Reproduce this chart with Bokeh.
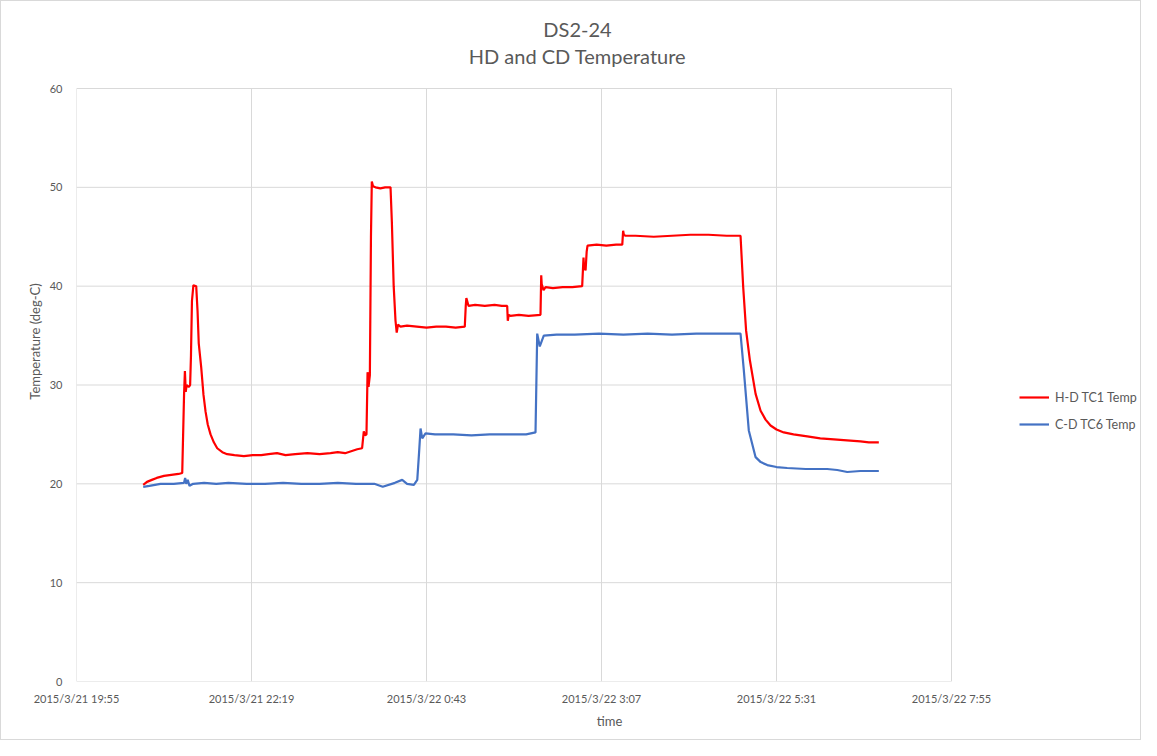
from bokeh.plotting import figure
from bokeh.models import (Range1d, FixedTicker, Legend, LegendItem, Label)
from bokeh.embed import file_html
from bokeh.resources import INLINE

# elapsed minutes since 2015/3/21 19:55
hd_minutes = [54.9, 58, 62, 66, 72, 78, 84, 87,
              88.5, 89.2, 89.9, 90.6, 92.5, 93.5, 94.2, 95.0,
              96.2, 98.5, 99.6, 100.6, 102.6, 104.5, 106.2, 108,
              110.3, 113, 115.8, 120, 124, 130, 137.7, 145,
              152, 158, 165, 172, 180, 190, 200, 209,
              215, 221, 226, 231, 235, 236.4, 237.5, 238.6,
              239.5, 240.3, 241.4, 242.3, 243.0, 244, 246, 250,
              254, 258.4, 259.5, 261, 262.5, 263.5, 264.5, 266.6,
              272, 280, 288, 296, 304, 312, 319.5, 320.3,
              320.8, 322.6, 328, 336, 344, 350, 354.4, 354.9,
              355.6, 357, 364, 372, 381.8, 382.4, 382.8, 384.3,
              386, 392, 400, 408, 416.1, 417.2, 417.6, 418.9,
              419.8, 420.5, 428, 436, 444, 449.1, 449.8, 450.4,
              451.8, 460, 475, 490, 505, 520, 535, 546.4,
              548.6, 551, 554.1, 558.8, 562.9, 567, 571.1, 576,
              582.0, 590, 601.3, 612, 623.2, 634, 645.1, 652,
              660.2]
hd_temp = [19.9, 20.2, 20.4, 20.6, 20.8, 20.9, 21.0, 21.1,
           29.0, 31.4, 29.3, 30.0, 29.8, 30.0, 33.0, 38.5,
           40.1, 40.0, 37.5, 34.2, 31.8, 29.0, 27.3, 26.0,
           25.0, 24.2, 23.6, 23.2, 23.0, 22.9, 22.8, 22.9,
           22.9, 23.0, 23.1, 22.9, 23.0, 23.1, 23.0, 23.1,
           23.2, 23.1, 23.3, 23.5, 23.6, 25.3, 24.9, 25.0,
           31.3, 29.8, 31.0, 45.0, 50.6, 50.1, 50.0, 49.9,
           50.0, 50.0, 46.5, 40.0, 36.5, 35.3, 36.1, 35.9,
           36.0, 35.9, 35.8, 35.9, 35.9, 35.8, 35.9, 38.0,
           38.8, 38.0, 38.1, 38.0, 38.1, 38.0, 38.0, 36.5,
           37.1, 37.0, 37.1, 37.0, 37.1, 41.1, 40.2, 39.6,
           39.9, 39.8, 39.9, 39.9, 40.0, 42.9, 42.0, 41.6,
           43.5, 44.1, 44.2, 44.1, 44.2, 44.2, 45.6, 45.2,
           45.1, 45.1, 45.0, 45.1, 45.2, 45.2, 45.1, 45.1,
           39.9, 35.5, 32.5, 29.1, 27.4, 26.5, 25.9, 25.5,
           25.2, 25.0, 24.8, 24.6, 24.5, 24.4, 24.3, 24.2,
           24.2]

cd_minutes = [54.9, 60, 69.1, 80, 88.5, 89.4, 90.3, 91.5,
              93, 96, 105, 115, 125, 140, 155, 170,
              185, 200, 215, 230, 245, 252, 262, 268,
              272, 277.6, 280.4, 281.8, 283.1, 284.5, 287.2, 295,
              310, 325, 340, 355, 370, 377.7, 379.1, 381.2,
              384.5, 395, 410, 430, 450, 470, 490, 510,
              530, 546.4, 549.1, 553.2, 558.8, 563, 568.4, 576,
              584.8, 600, 617.7, 626, 634.2, 645, 660.2]
cd_temp = [19.7, 19.8, 20.0, 20.0, 20.1, 20.6, 20.0, 20.4,
           19.8, 20.0, 20.1, 20.0, 20.1, 20.0, 20.0, 20.1,
           20.0, 20.0, 20.1, 20.0, 20.0, 19.7, 20.1, 20.4,
           20.0, 19.9, 20.4, 23.0, 25.6, 24.6, 25.1, 25.0,
           25.0, 24.9, 25.0, 25.0, 25.0, 25.2, 35.2, 33.9,
           35.0, 35.1, 35.1, 35.2, 35.1, 35.2, 35.1, 35.2,
           35.2, 35.2, 31.5, 25.4, 22.7, 22.2, 21.9, 21.7,
           21.6, 21.5, 21.5, 21.4, 21.2, 21.3, 21.3]

tick_minutes = [0, 144, 288, 432, 576, 720]
tick_labels = ["2015/3/21 19:55", "2015/3/21 22:19", "2015/3/22 0:43",
               "2015/3/22 3:07", "2015/3/22 5:31", "2015/3/22 7:55"]
y_ticks = [0, 10, 20, 30, 40, 50, 60]

series_names = ["H-D TC1 Temp", "C-D TC6 Temp"]
series_colors = ["#FF0000", "#4472C4"]
title_lines = ["DS2-24", "HD and CD Temperature"]

FONT = "Lato"
TXT = "#595959"
GRID = "#d9d9d9"

X_MIN, X_MAX = tick_minutes[0], tick_minutes[-1]
Y_MIN, Y_MAX = y_ticks[0], y_ticks[-1]

# plot area 875 x 593 px; the frame is extended right/up to host legend and title
FW, FH = 1066, 680
x_end = X_MAX * FW / 875.0
y_end = Y_MAX * FH / 593.0

p = figure(width=1141, height=740, output_backend="svg", toolbar_location=None,
           x_range=Range1d(X_MIN, x_end), y_range=Range1d(Y_MIN, y_end),
           min_border_left=75, min_border_right=0,
           min_border_top=0, min_border_bottom=60)
p.outline_line_color = None
p.background_fill_color = "white"
p.border_fill_color = "white"
p.styles = {"border": "1px solid #d9d9d9"}
p.grid.visible = False

# gridlines drawn at the tick positions
p.segment(x0=tick_minutes, y0=[Y_MIN] * len(tick_minutes),
          x1=tick_minutes, y1=[Y_MAX] * len(tick_minutes),
          line_color=GRID, line_width=1)
p.segment(x0=[X_MIN] * len(y_ticks), y0=y_ticks,
          x1=[X_MAX] * len(y_ticks), y1=y_ticks,
          line_color=GRID, line_width=1)

p.xaxis.ticker = FixedTicker(ticks=tick_minutes)
p.xaxis.major_label_overrides = {t: l for t, l in zip(tick_minutes, tick_labels)}
p.yaxis.ticker = FixedTicker(ticks=y_ticks)
p.xaxis.bounds = (X_MIN, X_MAX)
p.yaxis.bounds = (Y_MIN, Y_MAX)

for ax in (p.xaxis, p.yaxis):
    ax.axis_line_color = None
    ax.major_tick_line_color = None
    ax.minor_tick_line_color = None
    ax.major_tick_out = 0
    ax.major_tick_in = 0
    ax.minor_tick_out = 0
    ax.major_label_text_font = FONT
    ax.major_label_text_font_size = "11px"
    ax.major_label_text_color = TXT
    ax.axis_label_text_font = FONT
    ax.axis_label_text_font_size = "13px"
    ax.axis_label_text_font_style = "normal"
    ax.axis_label_text_color = TXT
p.xaxis.axis_label = "time"
p.yaxis.axis_label = "Temperature (deg-C)"
p.xaxis.major_label_standoff = 10
p.xaxis.axis_label_standoff = 5
p.yaxis.major_label_standoff = 14
p.yaxis.axis_label_standoff = 4

r1 = p.line(hd_minutes, hd_temp, line_color=series_colors[0], line_width=2.2)
r2 = p.line(cd_minutes, cd_temp, line_color=series_colors[1], line_width=2.2)

legend = Legend(items=[LegendItem(label=series_names[0], renderers=[r1]),
                       LegendItem(label=series_names[1], renderers=[r2])],
                location=(943, 247), orientation="vertical",
                padding=4, spacing=7, margin=0,
                glyph_width=30, glyph_height=20, label_height=20,
                label_standoff=6,
                label_text_font=FONT, label_text_font_size="12.5px",
                label_text_color=TXT,
                border_line_color=None, background_fill_alpha=0)
p.add_layout(legend, "center")

p.add_layout(Label(x=501, y=653, x_units="screen", y_units="screen",
                   text=title_lines[0], text_align="center",
                   text_baseline="middle",
                   text_font=FONT, text_font_size="20px", text_color=TXT))
p.add_layout(Label(x=501, y=626, x_units="screen", y_units="screen",
                   text=title_lines[1], text_align="center",
                   text_baseline="middle",
                   text_font=FONT, text_font_size="20px", text_color=TXT))

open("out.html", "w").write(file_html(p, INLINE))
